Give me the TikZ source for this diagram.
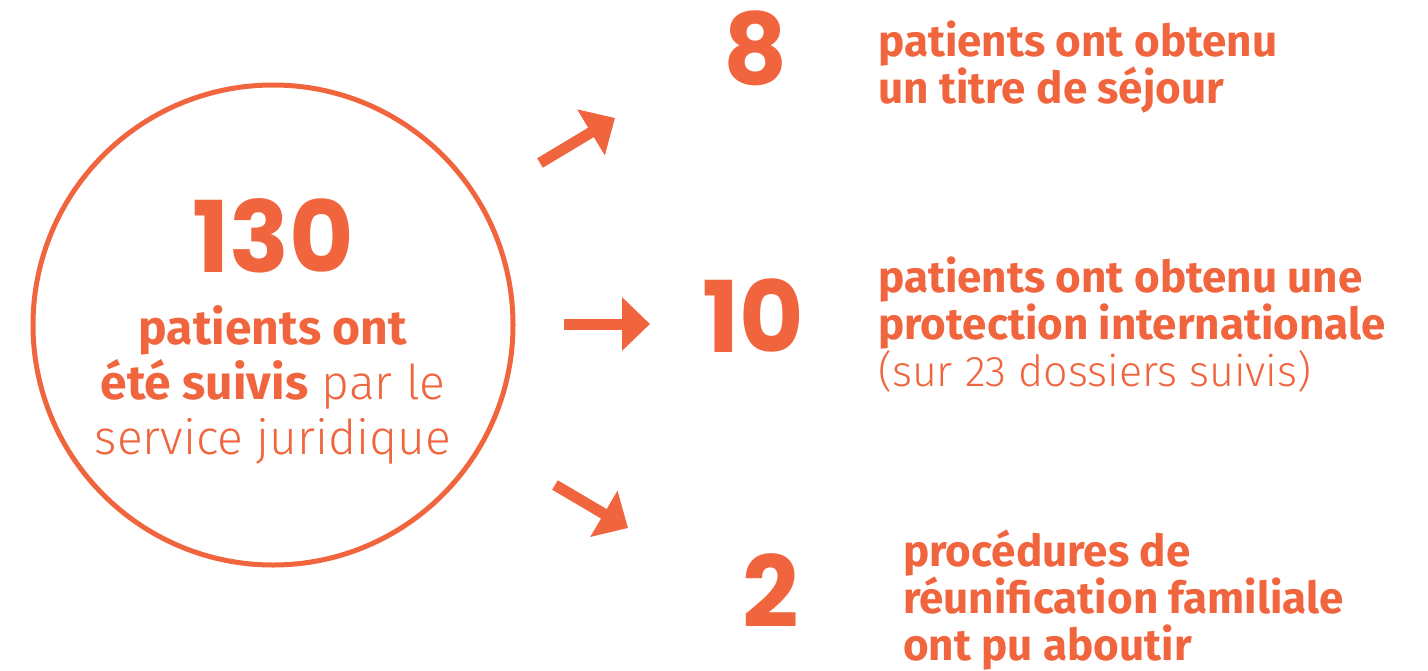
\documentclass[tikz,border=0pt]{standalone}
\usepackage{fontspec}
\setmainfont{Fira Sans}[UprightFont=* Light, BoldFont=* Bold]
\newfontfamily\numfont{Poppins}
\usetikzlibrary{arrows.meta}
\definecolor{msf}{RGB}{240,101,62}

\begin{document}
\begin{tikzpicture}[x=1pt,y=-1pt,
    fleche/.style={draw=msf,line width=11pt,-{Triangle[length=28pt,width=52pt]}},
    nombre/.style={text=msf,font=\numfont\bfseries\fontsize{99}{99}\selectfont,inner sep=0pt,anchor=base},
    texte/.style={text=msf,font=\bfseries\fontsize{44}{47}\selectfont,align=left,inner sep=0pt,anchor=base west}]
  \useasboundingbox (0,0) rectangle (1428,670);
  % cercle central
  \node [draw=msf,line width=5pt,circle,minimum size=480pt] (suivi) at (273,325) {};
  \node [nombre] (total) at (273,272) {130};
  \node [text=msf,font=\fontsize{48}{55}\selectfont,align=center,inner sep=0pt,anchor=base] (legende) at (273,454)
    {\textbf{patients ont}\\ \textbf{été suivis} par le\\ service juridique};

  % les trois issues
  \node [nombre] (n8) at (756,84) {8};
  \node [texte] (sejour) at (878,103) {patients ont obtenu\\un titre de séjour};
  \node [nombre] (n10) at (753,352) {10};
  \node [texte] (protection) at (878,386) {patients ont obtenu une\\protection internationale\\\textmd{\fontsize{43}{47}\selectfont(sur 23 dossiers suivis)}};
  \node [nombre] (n2) at (771,627) {2};
  \node [texte] (reunif) at (903,660) {procédures de\\réunification familiale\\ont pu aboutir};

  % fleches
  \coordinate (d1) at (540,163); \coordinate (f1) at (615,118);
  \coordinate (d2) at (564,324); \coordinate (f2) at (650,324);
  \coordinate (d3) at (555,485); \coordinate (f3) at (628,528);
  \draw [fleche] (d1) -- (f1);
  \draw [fleche] (d2) -- (f2);
  \draw [fleche] (d3) -- (f3);
\end{tikzpicture}
\end{document}
